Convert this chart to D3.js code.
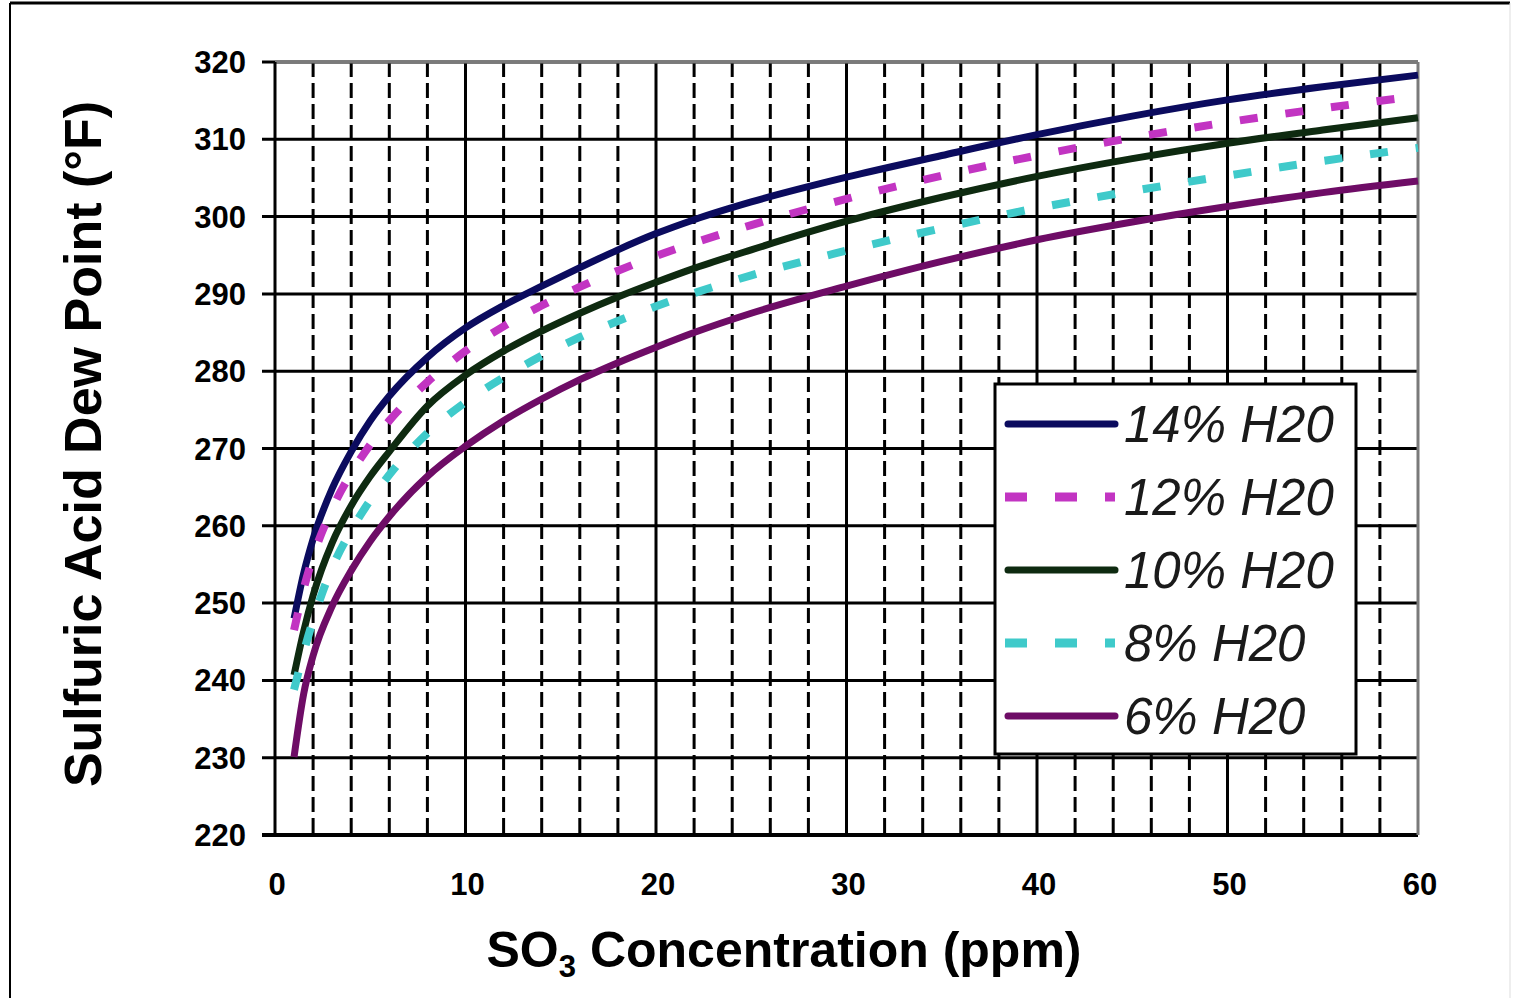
<!DOCTYPE html>
<html>
<head>
    <title>Sulfuric Acid Dew Point</title>
    <script src="https://cdn.jsdelivr.net/npm/d3@7"></script>
    <style>
        body { margin: 0; background: #fff; }
        text { font-family: "Liberation Sans", Arial, sans-serif; }
    </style>
</head>
<body>
<script>
    // SO3 concentration (ppm) where the curves were read
    const so3 = [1, 1.5, 2, 3, 4, 5, 6, 8, 10, 12, 14, 16, 18, 20, 22, 25, 30, 35, 40, 45, 50, 55, 60];

    // dew point (deg F) per water content
    const h2o14 = [248, 253.8, 258.3, 264.8, 269.6, 273.6, 276.8, 281.8, 285.6, 288.5, 291, 293.4, 295.7, 297.8, 299.6, 301.9, 305.1, 307.9, 310.6, 313, 315.1, 316.8, 318.3];
    const h2o12 = [246.5, 251.8, 256, 262.2, 266.8, 270.5, 273.6, 278.6, 282.6, 285.8, 288.5, 290.9, 293, 294.9, 296.6, 298.9, 302.3, 305.3, 307.9, 310.2, 312.2, 314, 315.6];
    const h2o10 = [240.7, 246.3, 251, 257.8, 262.6, 266.4, 269.6, 275.5, 279.5, 282.6, 285.2, 287.5, 289.6, 291.5, 293.3, 295.7, 299.4, 302.5, 305.2, 307.5, 309.5, 311.2, 312.8];
    const h2o8 = [238.8, 243.6, 247.8, 254.6, 259.4, 263.3, 266.6, 272, 276, 279.2, 282, 284.4, 286.5, 288.4, 290.1, 292.4, 295.6, 298.5, 301.1, 303.3, 305.3, 307.2, 308.9];
    const h2o6 = [230.1, 238.2, 243.2, 249.6, 254.2, 258, 261.2, 266.4, 270.3, 273.6, 276.4, 278.9, 281.1, 283.1, 285, 287.5, 291, 294.2, 297, 299.3, 301.3, 303.1, 304.6];

    const seriesNames = ['14% H20', '12% H20', '10% H20', '8% H20', '6% H20'];
    const seriesValues = [h2o14, h2o12, h2o10, h2o8, h2o6];
    const seriesColors = ['#0b0b5e', '#c234c2', '#0e2a10', '#3fcaca', '#6e0c66'];
    const seriesDashed = [false, true, false, true, false];

    const xTicks = [0, 10, 20, 30, 40, 50, 60];
    const xMinor = [2, 4, 6, 8, 12, 14, 16, 18, 22, 24, 26, 28, 32, 34, 36, 38, 42, 44, 46, 48, 52, 54, 56, 58];
    const yTicks = [220, 230, 240, 250, 260, 270, 280, 290, 300, 310, 320];

    const width = 1515;
    const height = 998;
    const plotLeft = 275, plotRight = 1418, plotTop = 62, plotBottom = 835;

    const svg = d3.select('body')
        .append('svg')
        .attr('width', width)
        .attr('height', height);

    // outer frame of the picture
    svg.append('line').attr('x1', 10).attr('x2', 1510).attr('y1', 3).attr('y2', 3)
        .attr('stroke', '#000').attr('stroke-width', 3);
    svg.append('line').attr('x1', 10).attr('x2', 10).attr('y1', 3).attr('y2', 998)
        .attr('stroke', '#000').attr('stroke-width', 2);
    svg.append('line').attr('x1', 1510).attr('x2', 1510).attr('y1', 3).attr('y2', 998)
        .attr('stroke', '#ddd').attr('stroke-width', 1);

    const x = d3.scaleLinear().domain([0, 60]).range([plotLeft, plotRight]);
    const y = d3.scaleLinear().domain([220, 320]).range([plotBottom, plotTop]);

    // minor dashed verticals
    svg.append('g')
        .selectAll('line')
        .data(xMinor)
        .join('line')
        .attr('x1', d => x(d)).attr('x2', d => x(d))
        .attr('y1', plotTop).attr('y2', plotBottom)
        .attr('stroke', '#000')
        .attr('stroke-width', 3)
        .attr('stroke-dasharray', '15,6');

    // major verticals
    svg.append('g')
        .selectAll('line')
        .data(xTicks.filter(d => d > 0 && d < 60))
        .join('line')
        .attr('x1', d => x(d)).attr('x2', d => x(d))
        .attr('y1', plotTop).attr('y2', plotBottom)
        .attr('stroke', '#000')
        .attr('stroke-width', 3);

    // horizontal grid with ticks sticking out to the left
    svg.append('g')
        .selectAll('line')
        .data(yTicks.filter(d => d < 320))
        .join('line')
        .attr('x1', plotLeft - 13).attr('x2', plotRight)
        .attr('y1', d => y(d)).attr('y2', d => y(d))
        .attr('stroke', '#000')
        .attr('stroke-width', d => d == 220 ? 4 : 3);

    // top and right border are grey
    svg.append('line').attr('x1', plotLeft - 13).attr('x2', plotRight).attr('y1', y(320)).attr('y2', y(320))
        .attr('stroke', '#000').attr('stroke-width', 3);
    svg.append('line').attr('x1', plotLeft).attr('x2', plotRight).attr('y1', y(320)).attr('y2', y(320))
        .attr('stroke', '#7a7a7a').attr('stroke-width', 3);
    svg.append('line').attr('x1', plotRight).attr('x2', plotRight).attr('y1', plotTop).attr('y2', plotBottom)
        .attr('stroke', '#7a7a7a').attr('stroke-width', 3);
    // y axis line
    svg.append('line').attr('x1', plotLeft).attr('x2', plotLeft).attr('y1', plotTop).attr('y2', plotBottom + 2)
        .attr('stroke', '#000').attr('stroke-width', 3);

    // tick labels
    svg.append('g')
        .selectAll('text')
        .data(yTicks)
        .join('text')
        .attr('x', 246)
        .attr('y', d => y(d) + 11)
        .attr('text-anchor', 'end')
        .attr('font-size', 31)
        .attr('font-weight', 'bold')
        .text(d => d);

    svg.append('g')
        .selectAll('text')
        .data(xTicks)
        .join('text')
        .attr('x', d => x(d) + 2)
        .attr('y', 895)
        .attr('text-anchor', 'middle')
        .attr('font-size', 31)
        .attr('font-weight', 'bold')
        .text(d => d);

    // axis titles
    const xt = svg.append('text')
        .attr('x', 784)
        .attr('y', 967)
        .attr('text-anchor', 'middle')
        .attr('font-size', 50)
        .attr('font-weight', 'bold');
    xt.append('tspan').text('SO');
    xt.append('tspan').attr('font-size', 31).attr('dy', 10).text('3');
    xt.append('tspan').attr('dy', -10).text(' Concentration (ppm)');

    svg.append('text')
        .attr('transform', 'translate(101,444) rotate(-90)')
        .attr('text-anchor', 'middle')
        .attr('font-size', 52)
        .attr('font-weight', 'bold')
        .text('Sulfuric Acid Dew Point (°F)');

    // curves
    const line = d3.line()
        .x((d, i) => x(so3[i]))
        .y(d => y(d))
        .curve(d3.curveMonotoneX);

    svg.append('g')
        .selectAll('path')
        .data(seriesValues)
        .join('path')
        .attr('d', d => line(d))
        .attr('fill', 'none')
        .attr('stroke', (d, i) => seriesColors[i])
        .attr('stroke-width', (d, i) => seriesDashed[i] ? 8 : 7)
        .attr('stroke-dasharray', (d, i) => seriesDashed[i] ? '18,28' : null)
        .attr('stroke-linecap', 'butt');

    // legend
    const legend = svg.append('g');
    legend.append('rect')
        .attr('x', 995).attr('y', 384)
        .attr('width', 361).attr('height', 370)
        .attr('fill', '#fff')
        .attr('stroke', '#000')
        .attr('stroke-width', 3);

    const rows = legend.selectAll('g')
        .data(seriesNames)
        .join('g')
        .attr('transform', (d, i) => `translate(0,${424 + i * 73})`);

    rows.append('line')
        .attr('x1', (d, i) => seriesDashed[i] ? 1005 : 1008)
        .attr('x2', 1115)
        .attr('y1', 0).attr('y2', 0)
        .attr('stroke', (d, i) => seriesColors[i])
        .attr('stroke-width', (d, i) => seriesDashed[i] ? 9 : 7)
        .attr('stroke-dasharray', (d, i) => seriesDashed[i] ? '22,28' : null)
        .attr('stroke-linecap', (d, i) => seriesDashed[i] ? 'butt' : 'round');

    rows.append('text')
        .attr('x', 1124)
        .attr('y', 18)
        .attr('font-size', 51)
        .attr('font-style', 'italic')
        .attr('fill', '#1a1a1a')
        .text(d => d);
</script>
</body>
</html>
